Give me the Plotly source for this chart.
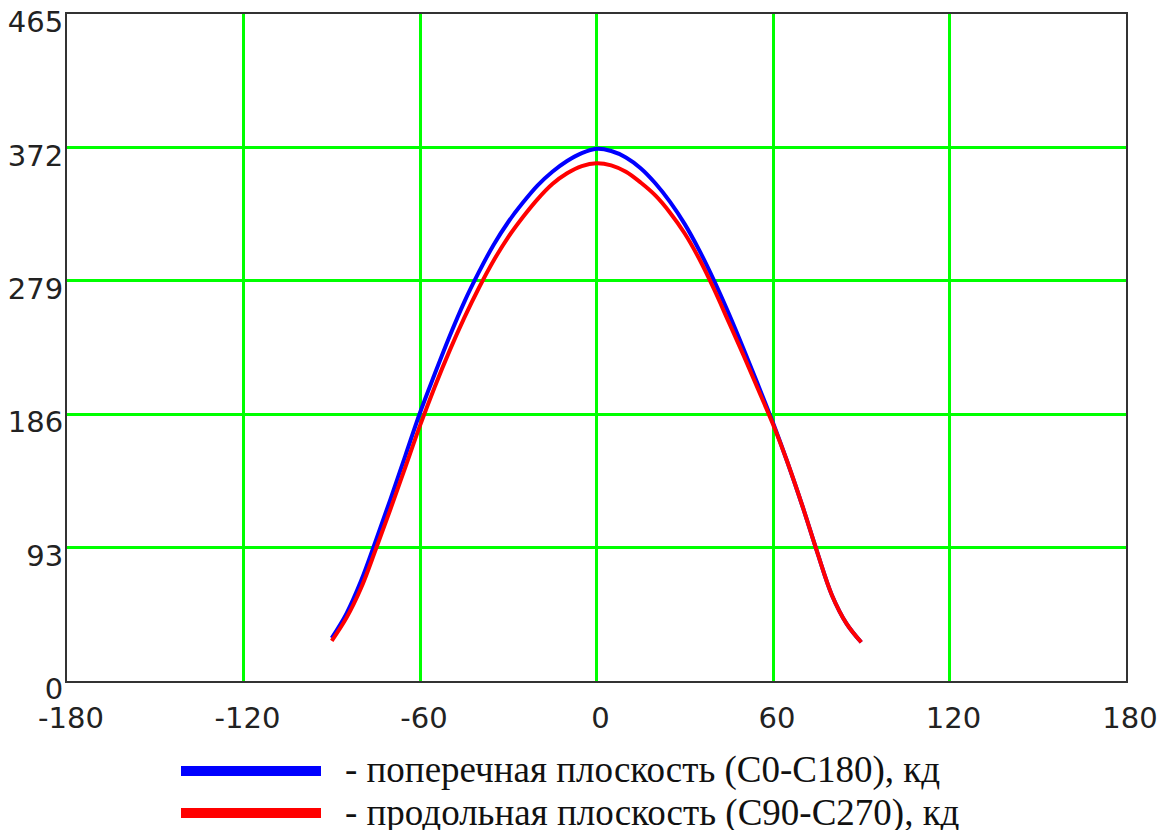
import plotly.graph_objects as go

# Angles (degrees)
angles = [-90, -85, -80, -75, -70, -65, -60, -55, -50, -45, -40, -35, -30, -25, -20, -15, -10, -5,
          0, 5, 10, 15, 20, 25, 30, 35, 40, 45, 50, 55, 60, 65, 70, 75, 80, 85, 90]

# Transverse plane (C0-C180), cd
c0_c180 = [30, 47, 70, 98, 127, 157, 187, 214, 240, 264, 285, 304, 320, 333.5, 345.5, 355, 362.5, 368,
           371, 369.5, 365, 357.5, 347, 334, 318.5, 300, 279, 256, 231.5, 206, 180, 152, 122, 90, 60, 40, 27]

# Longitudinal plane (C90-C270), cd
c90_c270 = [28, 44, 65, 92, 120, 149, 178, 205, 230, 253, 274, 293, 309.5, 323.5, 336, 346.5, 354, 359,
            361, 359.5, 355, 347.5, 338.5, 326.5, 312, 294, 273, 250, 227, 203, 179, 152, 122, 90, 60, 40, 27]

x_ticks = [-180, -120, -60, 0, 60, 120, 180]
x_tick_text = ["-180", "-120", "-60", "0", "60", "120", "180"]
y_ticks = [0, 93, 186, 279, 372, 465]
y_tick_text = ["0", "93", "186", "279", "372", "465"]

legend_labels = ["- поперечная плоскость (C0-C180), кд",
                 "- продольная плоскость (C90-C270), кд"]
colors = ["#0000ff", "#ff0000"]

# page body margin offset (px) of the html page
OFF = 8
WIN_W, WIN_H = 1168, 830
W, H = WIN_W - OFF, WIN_H - OFF
# plot area in window pixels
PL, PR, PT, PB = 67, 1126, 14, 681
ML, MR, MT, MB = PL - OFF, W - (PR - OFF), PT - OFF, H - (PB - OFF)

fig = go.Figure()
fig.add_trace(go.Scatter(x=angles, y=c0_c180, mode="lines",
                         line=dict(color=colors[0], width=4, shape="spline", smoothing=1.0),
                         name=legend_labels[0], showlegend=False))
fig.add_trace(go.Scatter(x=angles, y=c90_c270, mode="lines",
                         line=dict(color=colors[1], width=4, shape="spline", smoothing=1.0),
                         name=legend_labels[1], showlegend=False))

axis_font = dict(family="DejaVu Sans", size=29, color="#222222")

fig.update_xaxes(range=[-180, 180], tickmode="array", tickvals=x_ticks, ticktext=x_tick_text,
                 showgrid=True, gridcolor="#00ff00", gridwidth=3,
                 showline=True, linecolor="#333333", linewidth=2, mirror=True,
                 zeroline=False, ticks="", tickfont=axis_font, ticklabelshift=4,
                 ticklabelstandoff=10, automargin=False, ticklabeloverflow="allow")
fig.update_yaxes(range=[0, 465], tickmode="array", tickvals=y_ticks, ticktext=y_tick_text,
                 showgrid=True, gridcolor="#00ff00", gridwidth=3,
                 showline=True, linecolor="#333333", linewidth=2, mirror=True,
                 zeroline=False, ticks="", tickfont=axis_font, ticklabelshift=8,
                 ticklabelstandoff=-4, automargin=False, ticklabeloverflow="allow")

def px_x(p):
    # window pixel -> paper x
    return (p - PL) / (PR - PL)

def px_y(p):
    # window pixel -> paper y
    return (PB - p) / (PB - PT)

legend_rows = [771, 813]
text_rows = [770, 813]
for label, color, row, trow in zip(legend_labels, colors, legend_rows, text_rows):
    fig.add_shape(type="line", xref="paper", yref="paper",
                  x0=px_x(181), x1=px_x(321), y0=px_y(row), y1=px_y(row),
                  line=dict(color=color, width=10))
    fig.add_annotation(xref="paper", yref="paper", x=px_x(343), y=px_y(trow),
                       xanchor="left", yanchor="middle", showarrow=False,
                       text=label, font=dict(family="Liberation Serif", size=37, color="#111111"))

fig.update_layout(width=W, height=H, margin=dict(l=ML, r=MR, t=MT, b=MB, autoexpand=False),
                  plot_bgcolor="white", paper_bgcolor="white")

fig.write_html("out.html")
